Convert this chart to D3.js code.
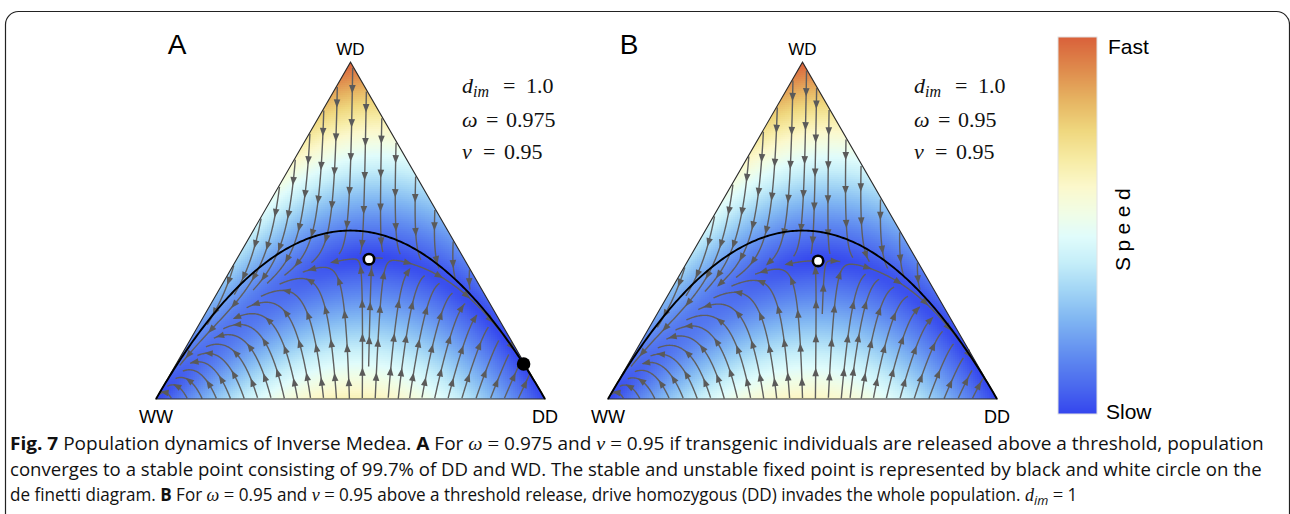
<!DOCTYPE html>
<html><head><meta charset="utf-8">
<script src="https://cdn.jsdelivr.net/npm/d3@7"></script>
<style>body{margin:0;background:#fff;} svg{display:block}</style>
</head><body>
<svg id="chart" width="1290" height="514"></svg>
<script>
// ---------------- data ----------------
const panelLabels = ["A", "B"];
const dimValues = [1.0, 1.0];
const omegaValues = [0.975, 0.95];
const nuValues = [0.95, 0.95];
const paramValueText = [["1.0", "0.975", "0.95"], ["1.0", "0.95", "0.95"]];
const vertexLabels = ["WW", "WD", "DD"];
// fixed points, barycentric [WW, WD, DD]
const unstablePoints = [[0.245, 0.415, 0.340], [0.255, 0.410, 0.335]];
const stablePoints = [[0.003, 0.104, 0.893], null];
const colorbarLabels = ["Fast", "Speed", "Slow"];
const captionLines = [
  "**Fig. 7**  Population dynamics of Inverse Medea. **A** For _ω_ = 0.975 and _ν_ = 0.95 if transgenic individuals are released above a threshold, population",
  "converges to a stable point consisting of 99.7% of DD and WD. The stable and unstable fixed point is represented by black and white circle on the",
  "de finetti diagram. **B** For _ω_ = 0.95 and _ν_ = 0.95 above a threshold release, drive homozygous (DD) invades the whole population. _d_~im~ = 1"
];

// ---------------- config ----------------
const colorDomain = [0, .07, .15, .25, .33, .40, .47, .53, .60, .67, .75, .83, .91, 1];
const colorRange = ["#3446ee","#4a68ee","#5f8af0","#80b6f2","#a3d6f5","#c5eef9","#e0fcfb","#f0fde6","#fbf8cc","#f7eca6","#efd77e","#e6b462","#df8c4d","#d9603a"];
const color = d3.scaleLinear().domain(colorDomain).range(colorRange).clamp(true);
const speedScale = d3.scalePow().exponent(1.1).domain([0, 1]).range([0, 1]).clamp(true);
const SQ3 = Math.sqrt(3) / 2;
const SIDE = 389, BASE_Y = 399, LEFT_X = 156, PANEL_DX = 452;

const svg = d3.select("#chart");
const defs = svg.append("defs");

// border
svg.append("rect").attr("x", 5.5).attr("y", 11.5).attr("width", 1284).attr("height", 600)
  .attr("rx", 13).attr("fill", "none").attr("stroke", "#222").attr("stroke-width", 1.2);

// Inverse Medea one-generation map
function nextGen(x, y, z, d, w, n) {
  const ww = (x + y / 2) ** 2;
  const dd = (z + y / 2) ** 2 * n;
  const wd = ((1 - d) * (x * y / 2 + x * z) + y * x / 2 + y * y / 2 + y * z / 2 + z * x + z * y / 2) * w;
  const s = ww + wd + dd;
  return [ww / s - x, wd / s - y, dd / s - z];
}

panelLabels.forEach((lab, i) => {
  const off = i * PANEL_DX;
  const sx = d3.scaleLinear().domain([0, 1]).range([LEFT_X + off, LEFT_X + off + SIDE]);
  const sy = d3.scaleLinear().domain([0, SQ3]).range([BASE_Y, BASE_Y - SIDE * SQ3]);
  const d = dimValues[i], w = omegaValues[i], n = nuValues[i];
  const toXY = b => [sx(b[2] + b[1] / 2), sy(b[1] * SQ3)];
  const toBary = (px, py) => {
    const X = sx.invert(px), Y = sy.invert(py);
    const yy = Y / SQ3, zz = X - yy / 2;
    return [1 - yy - zz, yy, zz];
  };
  const vel = b => {
    let [x, y, z] = b.map(v => Math.max(0, v));
    const s = x + y + z; x /= s; y /= s; z /= s;
    const dv = nextGen(x, y, z, d, w, n);
    return [dv[2] + dv[1] / 2, dv[1] * SQ3];
  };
  const corners = [[1, 0, 0], [0, 1, 0], [0, 0, 1]].map(toXY);
  const triPath = "M" + corners.map(c => c.join(",")).join("L") + "Z";

  const g = svg.append("g");
  defs.append("clipPath").attr("id", "clip" + i).append("path").attr("d", triPath);

  // ---- speed heat map ----
  const cells = [];
  const cs = 2;
  for (let py = Math.floor(corners[1][1]) - 1; py < BASE_Y + 1; py += cs) {
    for (let px = Math.floor(corners[0][0]) - 1; px < corners[2][0] + 1; px += cs) {
      const b = toBary(px + cs / 2, py + cs / 2);
      if (b[0] < -0.012 || b[1] < -0.012 || b[2] < -0.012) continue;
      const v = vel(b);
      cells.push({ px, py, s: Math.hypot(v[0], v[1]) });
    }
  }
  const smax = d3.max(cells, c => c.s);
  g.append("g").attr("clip-path", `url(#clip${i})`).attr("shape-rendering", "crispEdges")
    .selectAll("rect").data(cells).join("rect")
    .attr("x", c => c.px).attr("y", c => c.py).attr("width", cs + 0.3).attr("height", cs + 0.3)
    .attr("fill", c => color(speedScale(c.s / smax)));

  // ---- streamlines (evenly spaced) ----
  const dsep = 13, dtest = 6.2, h = 1;
  const gcs = dtest, grid = new Map();
  const gkey = (a, b) => a + "," + b;
  const inside = (px, py) => { const b = toBary(px, py); return b[0] >= 0.002 && b[1] >= 0.001 && b[2] >= 0.002; };
  const dir = (px, py) => {
    const b = toBary(px, py);
    if (b[0] < -0.004 || b[1] < -0.004 || b[2] < -0.004) return null;
    const v = vel(b);
    const vx = v[0], vy = -v[1];
    const m = Math.hypot(vx, vy);
    if (m < 1e-7) return null;
    return [vx / m, vy / m];
  };
  const tooClose = (px, py, dist) => {
    const ci = Math.floor(px / gcs), cj = Math.floor(py / gcs), r = Math.ceil(dist / gcs);
    for (let a = ci - r; a <= ci + r; a++) for (let b = cj - r; b <= cj + r; b++) {
      const arr = grid.get(gkey(a, b));
      if (!arr) continue;
      for (const p of arr) if (Math.hypot(p[0] - px, p[1] - py) < dist) return true;
    }
    return false;
  };
  const addPts = pts => pts.forEach(p => {
    const k = gkey(Math.floor(p[0] / gcs), Math.floor(p[1] / gcs));
    if (!grid.has(k)) grid.set(k, []);
    grid.get(k).push(p);
  });
  const fixedPx = [unstablePoints[i], stablePoints[i]].filter(Boolean).map(toXY);
  const trace = (x, y, sign) => {
    const pts = [];
    let prev = null;
    for (let k = 0; k < 1500; k++) {
      const d1 = dir(x, y); if (!d1) break;
      const d2 = dir(x + sign * d1[0] * h / 2, y + sign * d1[1] * h / 2); if (!d2) break;
      if (d1[0] * d2[0] + d1[1] * d2[1] < 0.7) break;
      if (prev && prev[0] * d2[0] + prev[1] * d2[1] < 0.7) break;
      const nx = x + sign * d2[0] * h, ny = y + sign * d2[1] * h;
      if (!inside(nx, ny)) break;
      if (tooClose(nx, ny, dtest)) break;
      if (fixedPx.some(f => Math.hypot(f[0] - nx, f[1] - ny) < 3)) break;
      pts.push([nx, ny]); x = nx; y = ny; prev = d2;
    }
    return pts;
  };
  const lines = [];
  const makeLine = (x, y) => {
    if (!inside(x, y) || tooClose(x, y, dsep * 0.95)) return null;
    const f = trace(x, y, 1), bk = trace(x, y, -1);
    const pts = bk.reverse().concat([[x, y]], f);
    let L = 0; for (let k = 1; k < pts.length; k++) L += Math.hypot(pts[k][0] - pts[k - 1][0], pts[k][1] - pts[k - 1][1]);
    if (L < 14) return null;
    addPts(pts); lines.push(pts);
    return pts;
  };
  const seeds = [];
  for (let py = BASE_Y - 4; py > corners[1][1] + 4; py -= dsep)
    for (let px = corners[0][0]; px < corners[2][0]; px += dsep) seeds.push([px, py]);
  const queue = [];
  let si = 0;
  while (si < seeds.length || queue.length) {
    let s;
    if (queue.length) s = queue.shift(); else s = seeds[si++];
    const pts = makeLine(s[0], s[1]);
    if (pts) {
      for (let k = 2; k < pts.length - 2; k += 6) {
        const a = pts[k - 2], b = pts[k + 2];
        const tx = b[0] - a[0], ty = b[1] - a[1], m = Math.hypot(tx, ty) || 1;
        const nx = -ty / m, ny = tx / m;
        queue.push([pts[k][0] + nx * dsep, pts[k][1] + ny * dsep]);
        queue.push([pts[k][0] - nx * dsep, pts[k][1] - ny * dsep]);
      }
    }
  }
  const sg = g.append("g");
  sg.selectAll("path.sl").data(lines).join("path").attr("class", "sl")
    .attr("d", d3.line()).attr("fill", "none").attr("stroke", "#5f5f5f").attr("stroke-width", 1.4)
    .attr("stroke-linejoin", "round");
  const arrows = [];
  lines.forEach((pts, li) => {
    const cum = [0];
    for (let k = 1; k < pts.length; k++) cum.push(cum[k - 1] + Math.hypot(pts[k][0] - pts[k - 1][0], pts[k][1] - pts[k - 1][1]));
    const L = cum[cum.length - 1];
    const at = s => { let k = d3.bisectLeft(cum, s); k = Math.min(Math.max(k, 1), pts.length - 1); const t = (s - cum[k - 1]) / ((cum[k] - cum[k - 1]) || 1); return [pts[k - 1][0] + t * (pts[k][0] - pts[k - 1][0]), pts[k - 1][1] + t * (pts[k][1] - pts[k - 1][1])]; };
    for (let s = Math.min(16 + (li % 3) * 5, L * 0.6); s < L - 2; s += 34) {
      const p = at(s), a = at(Math.max(0, s - 3)), b = at(Math.min(L, s + 3));
      const tx = b[0] - a[0], ty = b[1] - a[1], m = Math.hypot(tx, ty) || 1;
      const ux = tx / m, uy = ty / m;
      arrows.push([[p[0] + ux * 4.8, p[1] + uy * 4.8], [p[0] - ux * 3.6 - uy * 3.3, p[1] - uy * 3.6 + ux * 3.3], [p[0] - ux * 3.6 + uy * 3.3, p[1] - uy * 3.6 - ux * 3.3]]);
    }
  });
  sg.selectAll("path.ar").data(arrows).join("path").attr("class", "ar")
    .attr("d", a => "M" + a.map(p => p.join(",")).join("L") + "Z").attr("fill", "#5a5a5a");

  // triangle outline
  g.append("path").attr("d", triPath).attr("fill", "none").attr("stroke", "#2a2a2a").attr("stroke-width", 1.1);

  // Hardy-Weinberg curve
  const hw = d3.range(0, 1.0001, 0.005).map(p => toXY([(1 - p) ** 2, 2 * p * (1 - p), p * p]));
  g.append("path").attr("d", d3.line()(hw)).attr("fill", "none").attr("stroke", "#000").attr("stroke-width", 1.9);

  // fixed points
  if (stablePoints[i]) {
    const p = toXY(stablePoints[i]);
    g.append("circle").attr("cx", p[0]).attr("cy", p[1]).attr("r", 6.8).attr("fill", "#000");
  }
  const up = toXY(unstablePoints[i]);
  g.append("circle").attr("cx", up[0]).attr("cy", up[1]).attr("r", 5.2).attr("fill", "#fff").attr("stroke", "#000").attr("stroke-width", 2.6);

  // labels
  const sans = "Liberation Sans, Arial, sans-serif";
  g.append("text").attr("x", 177 + off).attr("y", 54).attr("text-anchor", "middle")
    .attr("font-family", sans).attr("font-size", 28).text(lab);
  g.append("text").attr("x", corners[1][0]).attr("y", 55).attr("text-anchor", "middle")
    .attr("font-family", sans).attr("font-size", 17).text(vertexLabels[1]);
  g.append("text").attr("x", corners[0][0]).attr("y", 423).attr("text-anchor", "middle")
    .attr("font-family", sans).attr("font-size", 18).text(vertexLabels[0]);
  g.append("text").attr("x", corners[2][0]).attr("y", 423).attr("text-anchor", "middle")
    .attr("font-family", sans).attr("font-size", 18).text(vertexLabels[2]);

  // parameter block
  const serif = "Liberation Serif, Times New Roman, serif";
  const pb = g.append("g").attr("font-family", serif).attr("font-size", 22).attr("fill", "#111");
  const rows = [93, 127, 159];
  const t1 = pb.append("text").attr("x", 462 + off).attr("y", rows[0]);
  t1.append("tspan").attr("font-style", "italic").text("d");
  t1.append("tspan").attr("font-style", "italic").attr("font-size", 16).attr("dy", 4).text("im");
  pb.append("text").attr("x", 503 + off).attr("y", rows[0]).text("=");
  pb.append("text").attr("x", 526 + off).attr("y", rows[0]).text(paramValueText[i][0]);
  pb.append("text").attr("x", 462 + off).attr("y", rows[1]).attr("font-style", "italic").text("ω");
  pb.append("text").attr("x", 486 + off).attr("y", rows[1]).text("=");
  pb.append("text").attr("x", 506 + off).attr("y", rows[1]).text(paramValueText[i][1]);
  pb.append("text").attr("x", 462 + off).attr("y", rows[2]).attr("font-style", "italic").text("ν");
  pb.append("text").attr("x", 483 + off).attr("y", rows[2]).text("=");
  pb.append("text").attr("x", 504 + off).attr("y", rows[2]).text(paramValueText[i][2]);
});

// ---------------- colorbar ----------------
const cbTop = 37, cbBot = 414, cbX = 1058, cbW = 39;
const cbScale = d3.scaleLinear().domain([0, 1]).range([cbBot, cbTop]);
const cbData = d3.range(0, 1, 1 / (cbBot - cbTop));
svg.append("g").attr("shape-rendering", "crispEdges").selectAll("rect").data(cbData).join("rect")
  .attr("x", cbX).attr("y", v => cbScale(v) - 1.2).attr("width", cbW).attr("height", 1.4)
  .attr("fill", v => color(v));
svg.append("rect").attr("x", cbX).attr("y", cbTop).attr("width", cbW).attr("height", cbBot - cbTop)
  .attr("fill", "none").attr("stroke", "#e2e2e2").attr("stroke-width", 1);
const sansF = "Liberation Sans, Arial, sans-serif";
svg.append("text").attr("x", 1108).attr("y", 54).attr("font-family", sansF).attr("font-size", 21).text(colorbarLabels[0]);
svg.append("text").attr("x", 1106).attr("y", 419).attr("font-family", sansF).attr("font-size", 21).text(colorbarLabels[2]);
svg.append("text").attr("transform", "translate(1130,227) rotate(-90)").attr("text-anchor", "middle")
  .attr("font-family", sansF).attr("font-size", 21).attr("letter-spacing", 5.5).text(colorbarLabels[1]);

// ---------------- caption ----------------
const capY = [450, 475.5, 501];
const capEnds = [1265, 1262, 1078];
captionLines.forEach((line, k) => {
  const cg = svg.append("g");
  const t = cg.append("text").attr("x", 0).attr("y", 0)
    .attr("font-family", "Open Sans, Noto Sans, sans-serif").attr("font-size", 17.5).attr("fill", "#111");
  const re = /(\*\*[^*]+\*\*|_[^_]+_|~[^~]+~|=)/g;
  let last = 0, m, sub = false;
  const add = (s, kind) => {
    if (!s) return;
    const ts = t.append("tspan").text(s);
    if (kind === "b") ts.attr("font-weight", "bold");
    if (kind === "i") ts.attr("font-style", "italic").attr("font-family", "Liberation Serif, serif").attr("font-size", 18.5);
    if (kind === "sub") ts.attr("font-style", "italic").attr("font-size", 13).attr("dy", 4);
    if (kind === "eq") ts.attr("font-family", "Liberation Serif, serif").attr("font-size", 19);
    if (sub && kind !== "sub") { ts.attr("dy", -4); sub = false; }
    if (kind === "sub") sub = true;
  };
  while ((m = re.exec(line))) {
    add(line.slice(last, m.index), "n");
    const s = m[0];
    if (s.startsWith("**")) add(s.slice(2, -2), "b");
    else if (s.startsWith("_")) add(s.slice(1, -1), "i");
    else if (s.startsWith("~")) add(s.slice(1, -1), "sub");
    else add(s, "eq");
    last = m.index + s.length;
  }
  add(line.slice(last), "n");
  const natural = t.node().getComputedTextLength() || (capEnds[k] - 10);
  const kx = (capEnds[k] - 10) / natural;
  cg.attr("transform", `translate(10,${capY[k]}) scale(${kx},1)`);
});
</script>
</body></html>
